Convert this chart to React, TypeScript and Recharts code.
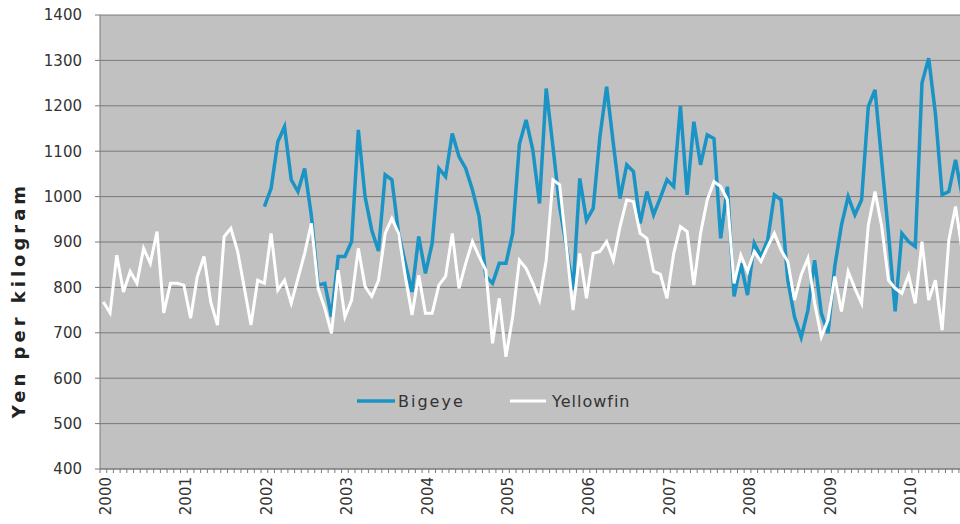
import React from 'react';
import { LineChart, Line, XAxis, YAxis, CartesianGrid, Legend, Label } from 'recharts';

const years = ['2000', '2001', '2002', '2003', '2004', '2005', '2006', '2007', '2008', '2009', '2010'];

const yellowfin = [
  768, 744, 871, 790, 835, 809, 886, 853, 923, 744, 809, 809,
  805, 732, 824, 868, 768, 717, 912, 930, 880, 800, 717, 816,
  809, 919, 794, 816, 765, 820, 875, 941, 798, 754, 699, 838,
  735, 772, 886, 802, 780, 815, 919, 952, 919, 824, 739, 827,
  743, 743, 805, 824, 919, 798, 853, 901, 868, 838, 677, 776,
  647, 735, 860, 842, 809, 772, 860, 1037, 1026, 890, 750, 875,
  776, 875, 879, 901, 860, 934, 993, 989, 919, 908, 835, 829,
  776, 875, 934, 923, 805, 919, 993, 1033, 1022, 993, 809, 871,
  835, 879, 857, 890, 919, 882, 857, 772, 828, 864, 765, 691,
  728, 824, 747, 835, 798, 765, 937, 1011, 934, 816, 798, 787,
  827, 765, 901, 772, 816, 706, 904, 978, 880,
];

const bigeye: (number | null)[] = [
  null, null, null, null, null, null, null, null, null, null, null, null,
  null, null, null, null, null, null, null, null, null, null, null, null,
  978, 1018, 1121, 1154, 1037, 1011, 1062, 958, 805, 809, 735, 868,
  868, 901, 1147, 1000, 926, 880, 1048, 1037, 919, 853, 790, 912,
  831, 897, 1062, 1044, 1139, 1088, 1062, 1015, 956, 824, 809, 853,
  853, 919, 1115, 1169, 1103, 985, 1238, 1110, 978, 890, 794, 1040,
  948, 974, 1132, 1242, 1117, 996, 1070, 1055, 941, 1011, 960, 997,
  1037, 1022, 1200, 1004, 1165, 1070, 1136, 1128, 908, 1022, 780, 853,
  783, 897, 868, 904, 1004, 993, 816, 735, 690, 750, 860, 743,
  699, 846, 937, 1000, 960, 993, 1198, 1235, 1077, 920, 747, 919,
  901, 890, 1250, 1305, 1183, 1004, 1011, 1081, 1000,
];

const yTicks = [400, 500, 600, 700, 800, 900, 1000, 1100, 1200, 1300, 1400];
const monthTicks = Array.from({ length: 130 }, (_, i) => i);

const data = yellowfin.map((v, i) => ({ m: i + 0.5, Bigeye: bigeye[i], Yellowfin: v }));

const BLUE = '#1a93c5';
const FONT = '"DejaVu Sans", sans-serif';

const YearTick = (props: any) => {
  const { x, y, payload } = props;
  const v = payload.value;
  if (v % 12 !== 0) return null;
  const label = years[v / 12];
  if (!label) return null;
  const ax = x + 5.5;
  const ay = y + 2;
  return (
    <text
      x={ax}
      y={ay}
      dy="0.36em"
      textAnchor="end"
      transform={`rotate(-90, ${ax}, ${ay})`}
      fill="#333"
      fontSize={15}
      fontFamily={FONT}
    >
      {label}
    </text>
  );
};

const renderLegend = (props: any) => {
  const payload = props.payload || [];
  const bi = payload.find((p: any) => p.value === 'Bigeye');
  const ye = payload.find((p: any) => p.value === 'Yellowfin');
  return (
    <svg width={300} height={24} style={{ display: 'block' }}>
      {bi && (
        <g>
          <line x1={0} y1={11} x2={38} y2={11} stroke={bi.color} strokeWidth={3.5} />
          <text x={41} y={17} fontSize={16} fontFamily={FONT} fill="#333" letterSpacing={2}>
            {bi.value}
          </text>
        </g>
      )}
      {ye && (
        <g>
          <line x1={153} y1={11} x2={189} y2={11} stroke={ye.color} strokeWidth={3} />
          <text x={195} y={17} fontSize={16} fontFamily={FONT} fill="#333" letterSpacing={1}>
            {ye.value}
          </text>
        </g>
      )}
    </svg>
  );
};

export default function App() {
  return (
    <div style={{ position: 'absolute', left: 0, top: 0, width: 960, height: 524, overflow: 'hidden', background: '#fff' }}>
      <LineChart width={980} height={524} data={data} margin={{ top: 15, right: 14.4, bottom: 5, left: 0 }}>
        <CartesianGrid horizontal vertical={false} stroke="#7a7a7a" fill="#c1c1c1" fillOpacity={1} />
        <XAxis
          type="number"
          dataKey="m"
          domain={[0, 129]}
          ticks={monthTicks}
          interval={0}
          tickSize={4}
          height={50}
          stroke="#7a7a7a"
          tick={<YearTick />}
          allowDataOverflow
        />
        <YAxis
          type="number"
          domain={[400, 1400]}
          ticks={yTicks}
          interval={0}
          width={100}
          tickSize={5}
          tickMargin={13}
          stroke="#7a7a7a"
          tick={{ fill: '#333', fontSize: 15, fontFamily: FONT }}
        >
          <Label
            content={() => (
              <text
                x={18}
                y={300}
                transform="rotate(-90, 18, 300)"
                textAnchor="middle"
                dominantBaseline="central"
                fontSize={18}
                fontWeight="bold"
                letterSpacing={4}
                fontFamily={FONT}
                fill="#222"
              >
                Yen per kilogram
              </text>
            )}
          />
        </YAxis>
        <Legend
          layout="vertical"
          align="center"
          verticalAlign="middle"
          content={renderLegend}
          wrapperStyle={{ position: 'absolute', left: 357, top: 390, width: 300, height: 24 }}
        />
        <Line type="linear" dataKey="Bigeye" stroke={BLUE} strokeWidth={3.5} dot={false} isAnimationActive={false} connectNulls={false} />
        <Line type="linear" dataKey="Yellowfin" stroke="#ffffff" strokeWidth={3} dot={false} isAnimationActive={false} />
      </LineChart>
    </div>
  );
}
